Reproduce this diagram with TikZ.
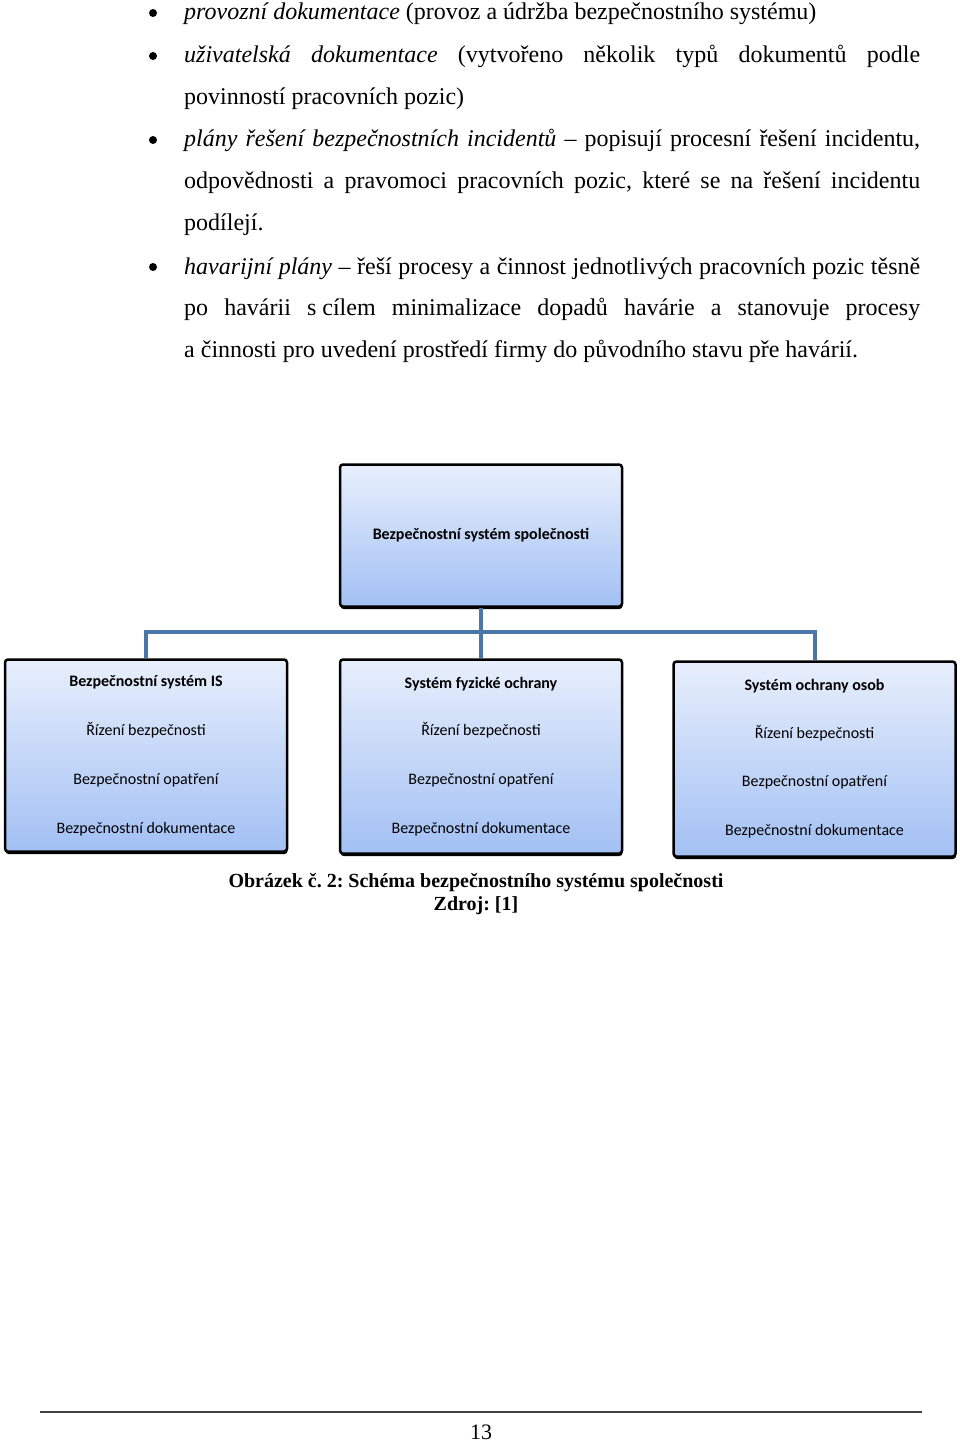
\documentclass[tikz,border=0pt]{standalone}
\usepackage{fontspec}
\setmainfont{Liberation Serif}
\newfontfamily\calibri{Carlito}
\usetikzlibrary{shadows}
\frenchspacing

\definecolor{boxtop}{HTML}{E8EFFC}
\definecolor{boxbottom}{HTML}{A2C0F4}
\definecolor{linkblue}{HTML}{4A76A8}

\tikzset{
  bodytext/.style={anchor=base west, inner sep=0pt, text width=736pt, align=justify,
    font=\fontsize{24}{41.7}\selectfont},
  bullet/.style={circle, fill=black, inner sep=0pt, minimum size=8pt},
  orgbox/.style={draw=black, line width=2.5pt, rounded corners=3pt,
    top color=boxtop, bottom color=boxbottom, minimum width=282pt,
    inner sep=0pt, align=center, font=\calibri\fontsize{16}{19}\selectfont,
    drop shadow={shadow xshift=0.5pt, shadow yshift=-2.5pt, fill=black, opacity=1}},
  link/.style={draw=linkblue, line width=4pt},
}

\begin{document}
\begin{tikzpicture}[x=1pt, y=-1pt]
\useasboundingbox (0,0) rectangle (960,1442);
\fill[white] (0,0) rectangle (960,1442);

% odrazky s textem
\node[bullet] (b1) at (153,13) {};
\node[bodytext] (p1) at (184,20) {\textit{provozní dokumentace} (provoz a údržba bezpečnostního systému)};

\node[bullet] (b2) at (153,56) {};
\node[bodytext] (p2) at (184,63) {\textit{uživatelská dokumentace} (vytvořeno několik typů dokumentů podle\linebreak
povinností pracovních pozic)};

\node[bullet] (b3) at (153,140) {};
\node[bodytext] (p3) at (184,147) {\textit{plány řešení bezpečnostních incidentů} – popisují procesní řešení incidentu,\linebreak
odpovědnosti a pravomoci pracovních pozic, které se na řešení incidentu\linebreak
podílejí.};

\node[bullet] (b4) at (153,267) {};
\node[bodytext] (p4) at (184,274) {\textit{havarijní plány} – řeší procesy a činnost jednotlivých pracovních pozic těsně\linebreak
po havárii s\hspace{0.25em}cílem minimalizace dopadů havárie a stanovuje procesy\linebreak
a činnosti pro uvedení prostředí firmy do původního stavu pře havárií.};

% schema
\node[orgbox, minimum height=142pt] (spol) at (481,535.5) {\textbf{Bezpečnostní systém společnosti}};

\node[orgbox, minimum height=192pt] (is) at (146,755.5) {\textbf{Bezpečnostní systém IS}\\[30pt]
Řízení bezpečnosti\\[30pt]Bezpečnostní opatření\\[30pt]Bezpečnostní dokumentace};
\node[orgbox, minimum height=194pt] (fyz) at (481,756.5) {\textbf{Systém fyzické ochrany}\\[28pt]
Řízení bezpečnosti\\[30pt]Bezpečnostní opatření\\[30pt]Bezpečnostní dokumentace};
\node[orgbox, minimum height=195pt] (osob) at (814.5,759) {\textbf{Systém ochrany osob}\\[29pt]
Řízení bezpečnosti\\[29pt]Bezpečnostní opatření\\[30pt]Bezpečnostní dokumentace};

\coordinate (bus) at (481,632);
\draw[link] (spol.south) -- (fyz.north);
\draw[link] (is.north) -- (is.north |- bus) -- (osob.north |- bus) -- (osob.north);

% popisek
\node[font=\bfseries\fontsize{20}{23}\selectfont, align=center, inner sep=0pt] (popis) at (476,894)
  {Obrázek č. 2: Schéma bezpečnostního systému společnosti\\Zdroj: [1]};

% paticka
\coordinate (fl) at (40,1412);
\coordinate (fr) at (922,1412);
\draw[black!75, line width=1.2pt] (fl) -- (fr);
\node[font=\fontsize{22}{26}\selectfont] (strana) at (481,1432) {13};
\end{tikzpicture}
\end{document}
